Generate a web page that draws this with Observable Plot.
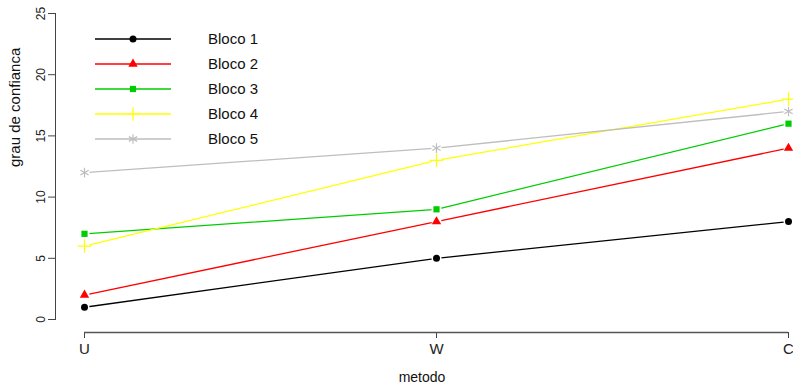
<!DOCTYPE html>
<html><head><meta charset="utf-8">
<script src="https://cdn.jsdelivr.net/npm/d3@7"></script>
<script src="https://cdn.jsdelivr.net/npm/@observablehq/plot@0.6"></script>
<style>body{margin:0;background:#fff}</style>
</head><body><div id="chart"></div>
<script>
const methods = ["U", "W", "C"];
const blocos = ["Bloco 1", "Bloco 2", "Bloco 3", "Bloco 4", "Bloco 5"];
const bloco1 = [1, 5, 8];
const bloco2 = [2, 8, 14];
const bloco3 = [7, 9, 16];
const bloco4 = [6, 13, 18];
const bloco5 = [12, 14, 17];
const yTicks = [0, 5, 10, 15, 20, 25];
const colors = ["#000000", "#FF0000", "#00CD00", "#FFFF00", "#BEBEBE"];
const symbols = ["circle", "triangle", "square", "plus", "asterisk"];

const series = [bloco1, bloco2, bloco3, bloco4, bloco5];
const data = [];
series.forEach((vals, i) => vals.forEach((v, j) => data.push({bloco: blocos[i], metodo: methods[j], valor: v})));

const font = "'Liberation Sans', Arial, sans-serif";
const marks = [
  Plot.frame({anchor: "left", insetBottom: 13, stroke: "#444"}),
  Plot.axisY({ticks: yTicks, tickSize: 7, tickRotate: -90, tickPadding: 4, fontSize: 12, label: null, stroke: "#444", color: "#222"}),
  Plot.text(["grau de confianca"], {frameAnchor: "left", dx: -40, dy: -6, rotate: -90, fontSize: 15, fill: "#111"}),
  Plot.axisX({tickSize: 6, tickPadding: 5, fontSize: 15, label: null, stroke: "#444", color: "#222"}),
  Plot.text(["metodo"], {frameAnchor: "bottom", dy: 45, lineAnchor: "middle", fontSize: 14, fill: "#111"}),
  Plot.line(data, {x: "metodo", y: "valor", z: "bloco", stroke: "bloco", strokeWidth: 1.3}),
  Plot.dot(data, {x: "metodo", y: "valor", r: 5, fill: "white", stroke: null})
];
blocos.forEach((b, i) => {
  const sym = symbols[i];
  const stroked = sym === "plus" || sym === "asterisk";
  marks.push(Plot.dot(data.filter(d => d.bloco === b), {
    x: "metodo", y: "valor", symbol: () => sym,
    r: stroked ? 4.5 : 3.5,
    fill: stroked ? "none" : colors[i],
    stroke: stroked ? colors[i] : null,
    strokeWidth: 1.2
  }));
});

const chart = Plot.plot({
  width: 793, height: 385,
  marginLeft: 55, marginTop: 13, marginBottom: 53, marginRight: 5,
  x: {type: "point", domain: methods, range: [83, 788], padding: 0},
  y: {domain: [0, 25], range: [319, 13]},
  color: {domain: blocos, range: colors},
  symbol: {domain: symbols, range: symbols},
  style: {fontFamily: font, background: "white", overflow: "visible"},
  marks
});
document.getElementById("chart").appendChild(chart);

const svg = d3.select(chart.tagName === "svg" ? chart : chart.querySelector("svg"));
// x-axis baseline from the plot's own x scale, spanning first to last category
const xs = chart.scale("x");
const axisY = 385 - 53;
svg.append("line")
  .attr("x1", xs.apply(methods[0])).attr("x2", xs.apply(methods[methods.length - 1]))
  .attr("y1", axisY + 0.5).attr("y2", axisY + 0.5)
  .attr("stroke", "#555").attr("stroke-width", 1.3);

// legend inside plot area
const g = svg.append("g").attr("font-family", font).attr("text-anchor", "start");
blocos.forEach((b, i) => {
  const y = 39 + i * 25;
  g.append("line").attr("x1", 95).attr("x2", 171).attr("y1", y).attr("y2", y)
    .attr("stroke", colors[i]).attr("stroke-width", 1.3);
  const sym = d3.symbol().type({circle: d3.symbolCircle, triangle: d3.symbolTriangle, square: d3.symbolSquare, plus: d3.symbolPlus, asterisk: d3.symbolAsterisk}[symbols[i]]);
  const stroked = symbols[i] === "plus" || symbols[i] === "asterisk";
  const r = stroked ? 4.5 : 3.5;
  g.append("path").attr("transform", `translate(133,${y})`).attr("d", sym.size(Math.PI * r * r)())
    .attr("fill", stroked ? "none" : colors[i]).attr("stroke", stroked ? colors[i] : "none").attr("stroke-width", 1.2);
  g.append("text").attr("x", 208).attr("y", y).attr("dy", "0.35em").attr("font-size", 15).attr("fill", "#111").text(b);
});
</script></body></html>
